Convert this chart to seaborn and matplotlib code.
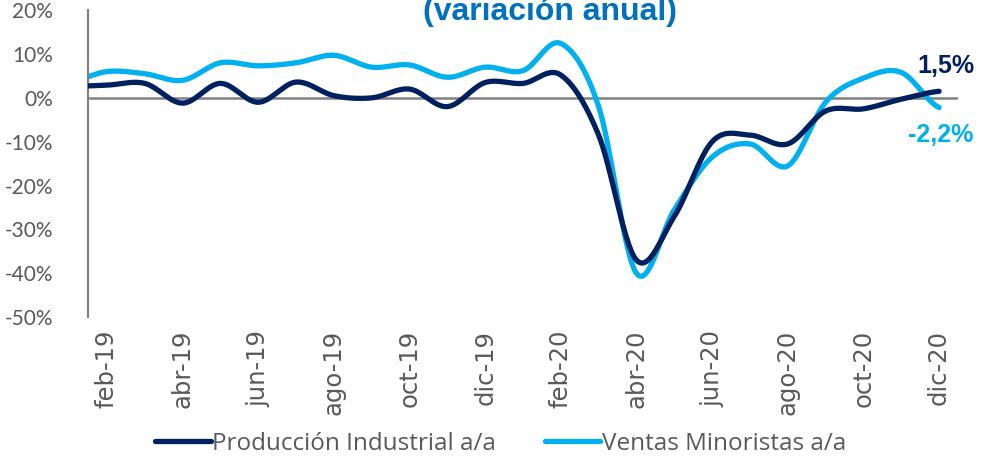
import numpy as np
import pandas as pd
import matplotlib
matplotlib.use("Agg")
import matplotlib.pyplot as plt
import seaborn as sns

# meses (ene-19 .. dic-20); ene-19 queda recortado por el eje
meses = ['ene-19', 'feb-19', 'mar-19', 'abr-19', 'may-19', 'jun-19', 'jul-19', 'ago-19',
         'sep-19', 'oct-19', 'nov-19', 'dic-19', 'ene-20', 'feb-20', 'mar-20', 'abr-20',
         'may-20', 'jun-20', 'jul-20', 'ago-20', 'sep-20', 'oct-20', 'nov-20', 'dic-20']

produccion = [2.6, 2.9, 3.3, -1.2, 3.3, -1.0, 3.6, 0.5, 0.0, 2.0, -2.0, 3.5,
              3.3, 5.2, -8.5, -37.0, -27.0, -10.0, -8.5, -10.5, -3.0, -2.5, -0.3, 1.5]

ventas = [3.6, 6.0, 5.5, 4.0, 8.0, 7.3, 8.0, 9.7, 7.0, 7.5, 4.7, 7.0,
          6.2, 12.4, -2.0, -40.0, -25.5, -13.5, -10.5, -15.5, -1.0, 4.5, 5.8, -2.2]

yticks = [20, 10, 0, -10, -20, -30, -40, -50]

AZUL_OSCURO = '#002060'
AZUL_CLARO = '#00B0F0'
GRIS = '#595959'


def suavizar(y, n=30):
    # curva suavizada tipo excel (catmull-rom) a partir de los puntos
    y = np.asarray(y, dtype=float)
    x = np.arange(len(y), dtype=float)
    p = np.concatenate([[y[0]], y, [y[-1]]])
    xs, ys = [], []
    for i in range(len(y) - 1):
        p0, p1, p2, p3 = p[i], p[i + 1], p[i + 2], p[i + 3]
        t = np.linspace(0, 1, n, endpoint=False)
        c1 = p1 + (p2 - p0) / 6
        c2 = p2 - (p3 - p1) / 6
        yy = (1 - t) ** 3 * p1 + 3 * (1 - t) ** 2 * t * c1 + 3 * (1 - t) * t ** 2 * c2 + t ** 3 * p2
        xs.append(x[i] + t)
        ys.append(yy)
    xs.append([x[-1]])
    ys.append([y[-1]])
    return np.concatenate(xs), np.concatenate(ys)


sns.set_style('white')
plt.rcParams['font.family'] = ['Liberation Sans', 'DejaVu Sans']

fig = plt.figure(figsize=(9.87, 4.61), dpi=100)
ax = fig.add_axes([0.0892, 0.312, 0.8814, 0.666])

x1, y1 = suavizar(produccion)
x2, y2 = suavizar(ventas)
df1 = pd.DataFrame({'x': x1, 'y': y1})
df2 = pd.DataFrame({'x': x2, 'y': y2})

ax.axhline(0, color='#808080', linewidth=1.8, zorder=1)
sns.lineplot(data=df1, x='x', y='y', sort=False, color=AZUL_OSCURO, linewidth=3.8,
             label='Producción Industrial a/a', ax=ax, zorder=3)
sns.lineplot(data=df2, x='x', y='y', sort=False, color=AZUL_CLARO, linewidth=3.8,
             label='Ventas Minoristas a/a', ax=ax, zorder=2)

ax.set_xlim(0.5, 23.5)
ax.set_ylim(-50, 20)
ax.set_yticks(yticks)
ax.set_yticklabels([f'{v}%' for v in yticks])
ax.set_xticks(range(1, 24, 2))
ax.set_xticklabels(meses[1::2], rotation=90)
for t in ax.get_yticklabels():
    t.set_fontfamily('Lato')
    t.set_fontsize(15)
    t.set_color(GRIS)
for t in ax.get_xticklabels():
    t.set_fontfamily('DejaVu Sans')
    t.set_fontsize(17.5)
    t.set_color(GRIS)
ax.tick_params(axis='both', length=0)
ax.tick_params(axis='x', pad=9)
ax.tick_params(axis='y', pad=25)
ax.set_xlabel('')
ax.set_ylabel('')

for s in ['top', 'right', 'bottom']:
    ax.spines[s].set_visible(False)
ax.spines['left'].set_color('#808080')
ax.spines['left'].set_linewidth(1.5)

# etiquetas del ultimo dato
ax.text(23.17, 7.2, '1,5%', color=AZUL_OSCURO, fontsize=18, fontweight='bold',
        ha='center', va='center', clip_on=False)
ax.text(23.05, -8.5, '-2,2%', color=AZUL_CLARO, fontsize=18, fontweight='bold',
        ha='center', va='center', clip_on=False)

# titulo recortado arriba
fig.text(0.557, 1 - 20 / 461, '(variación anual)', ha='center', va='baseline',
         fontsize=23, fontweight='bold', color='#0070C0')

ax.legend_.remove()
h, l = ax.get_legend_handles_labels()
leg = fig.legend(h, l, loc='center', bbox_to_anchor=(0.507, 0.037), ncol=2, frameon=False,
                 handlelength=2.3, handletextpad=0.05, columnspacing=2.0,
                 prop={'family': 'Open Sans', 'size': 17.5})
for t in leg.get_texts():
    t.set_color(GRIS)

fig.savefig('out.png', dpi=100)
